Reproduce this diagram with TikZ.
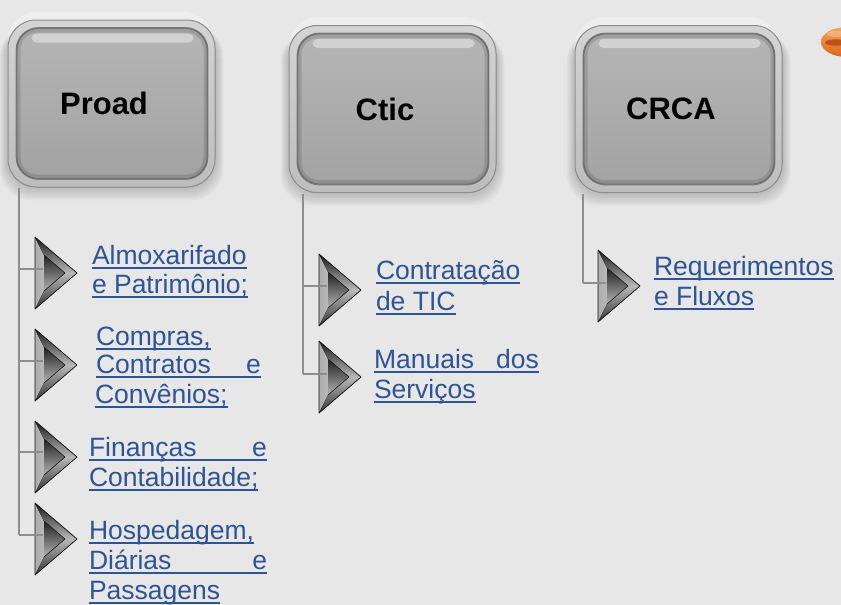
\documentclass[tikz,border=0pt]{standalone}
\usepackage{fontspec}
\setmainfont{Liberation Sans}
\definecolor{bg}{HTML}{E7E7E7}
\definecolor{linkblue}{HTML}{2E5495}
\definecolor{trunk}{HTML}{8E8E8E}
\definecolor{facetop}{HTML}{B5B5B5}
\definecolor{facemid}{HTML}{B0B0B0}
\definecolor{facebot}{HTML}{A3A3A3}
\definecolor{facerim}{HTML}{7A7A7A}
\definecolor{bezeltop}{HTML}{D4D4D4}
\definecolor{bezelbot}{HTML}{BDBDBD}
\definecolor{bezelline}{HTML}{8E8E8E}
\definecolor{orA}{HTML}{F6A35A}
\definecolor{orB}{HTML}{D8661C}
\definecolor{orC}{HTML}{B9521A}
\tikzset{
  lnk/.style={anchor=base west, inner sep=0pt, outer sep=0pt, text=linkblue,
    font=\fontsize{26.5}{29}\selectfont},
  uline/.style={draw=linkblue, line width=1.8pt},
  trunkline/.style={draw=trunk, line width=1.4pt},
  face/.style={minimum width=191pt, minimum height=151pt, rounded corners=22pt,
    inner sep=0pt, top color=facetop, middle color=facemid, bottom color=facebot, draw=facerim,
    line width=1.8pt, font=\bfseries\fontsize{31}{31}\selectfont, text=black},
  arrowicon/.pic={
    \fill[left color=gray!65, middle color=gray!28, right color=gray!55] (0,-36) -- (9,-18) -- (9,18) -- (0,36) -- cycle;
    \fill[top color=gray!20!black, bottom color=gray!55] (0,-36) -- (42,0) -- (30,0) -- (9,-18) -- cycle;
    \fill[top color=gray!55, bottom color=gray!40!black] (0,36) -- (42,0) -- (30,0) -- (9,18) -- cycle;
    \fill[top color=gray!25!black, bottom color=gray!60] (9,-18) -- (30,0) -- (9,18) -- cycle;
    \draw[gray!25!black, line width=0.6pt, line join=round] (9,-18) -- (30,0) -- (9,18);
    \draw[gray!15!black, line width=0.7pt, line join=round] (0,-36) -- (42,0) -- (0,36) -- cycle;
  }
}
\newcommand\lnk[3]{%
  \node[lnk] (#1) at (#2) {#3};
  \draw[uline] ([yshift=-3.8pt]#1.base west) -- ([yshift=-3.8pt]#1.base east);}
\newcommand\drawbox[4]{%
  \foreach \i in {1,...,8}{%
    \fill[black, opacity=0.025, rounded corners=32pt]
      (#2-104-\i, #3-78) rectangle (#2+104+\i, #3+84+1.6*\i);}
  \fill[white, opacity=0.3, rounded corners=30pt] (#2-104, #3-92) rectangle (#2+101, #3+20);
  \filldraw[top color=bezeltop, bottom color=bezelbot, draw=bezelline, line width=1pt,
    rounded corners=28pt] (#2-103.5, #3-83.5) rectangle (#2+103.5, #3+83.5);
  \node[face] (#1) at (#2+0.5, #3) {\kern-16pt #4};
  \draw[black, opacity=0.12, line width=4pt, rounded corners=19pt]
    (#2-93, #3-73) rectangle (#2+94, #3+73);
  \fill[white, opacity=0.4, rounded corners=5pt] (#2-80, #3-70) rectangle (#2+82, #3-61);}
\begin{document}
\begin{tikzpicture}[x=1pt, y=-1pt]
  \useasboundingbox (0,0) rectangle (841,605);
  \fill[bg] (0,0) rectangle (841,605);
  % orange decoration at the edge
  \begin{scope}
    \clip (0,0) rectangle (841,605);
    \shade[top color=orA, bottom color=orB] (847,42) ellipse [x radius=26, y radius=15];
    \fill[orC] (836,42.5) ellipse [x radius=11, y radius=3.2];
    \fill[white, opacity=0.25] (836,34) ellipse [x radius=9, y radius=3];
  \end{scope}
  % boxes
  \drawbox{proad}{111.5}{103.5}{Proad}
  \drawbox{ctic}{392.5}{109}{Ctic}
  \drawbox{crca}{678.5}{109}{CRCA}
  % Proad branch
  \coordinate (p0) at (19,188);
  \coordinate (p1) at (19,269); \coordinate (p2) at (19,361);
  \coordinate (p3) at (19,452); \coordinate (p4) at (19,535);
  \coordinate (a1) at (43,269); \coordinate (a2) at (43,361);
  \coordinate (a3) at (43,452); \coordinate (a4) at (43,535);
  \draw[trunkline] (p0) -- (p4);
  \pic at (35,273) {arrowicon};
  \pic at (35,365) {arrowicon};
  \pic at (35,457) {arrowicon};
  \pic at (35,539) {arrowicon};
  \foreach \k in {1,2,3,4} {\draw[trunkline] (p\k) -- (a\k);}
  % Ctic branch
  \coordinate (c0) at (303,194);
  \coordinate (c1) at (303,286); \coordinate (c2) at (303,374);
  \coordinate (b1) at (327,286); \coordinate (b2) at (327,374);
  \draw[trunkline] (c0) -- (c2);
  \pic at (319,290) {arrowicon};
  \pic at (319,377) {arrowicon};
  \draw[trunkline] (c1) -- (b1);
  \draw[trunkline] (c2) -- (b2);
  % CRCA branch
  \coordinate (r0) at (583,194);
  \coordinate (r1) at (583,283);
  \coordinate (d1) at (606,283);
  \draw[trunkline] (r0) -- (r1);
  \pic at (598,286) {arrowicon};
  \draw[trunkline] (r1) -- (d1);
  % Link texts
  \lnk{l1}{92,264}{Almoxarifado}
  \lnk{l2}{92,293}{e Patrimônio;}
  \lnk{l3}{96,345}{Compras,}
  \lnk{l4}{96,373}{\hbox to 165pt{Contratos\hfill e}}
  \lnk{l5}{95,403}{Convênios;}
  \lnk{l6}{89,456}{\hbox to 178pt{Finanças\hfill e}}
  \lnk{l7}{89,486}{Contabilidade;}
  \lnk{l8}{89,539}{Hospedagem,}
  \lnk{l9}{89,569}{\hbox to 178pt{Diárias\hfill e}}
  \lnk{l10}{89,599}{Passagens}
  \lnk{m1}{376,279}{Contratação}
  \lnk{m2}{376,310}{de TIC}
  \lnk{m3}{374,368}{\hbox to 165pt{Manuais\hfill dos}}
  \lnk{m4}{374,398}{Serviços}
  \lnk{n1}{654,275}{Requerimentos}
  \lnk{n2}{654,305}{e Fluxos}
\end{tikzpicture}
\end{document}
